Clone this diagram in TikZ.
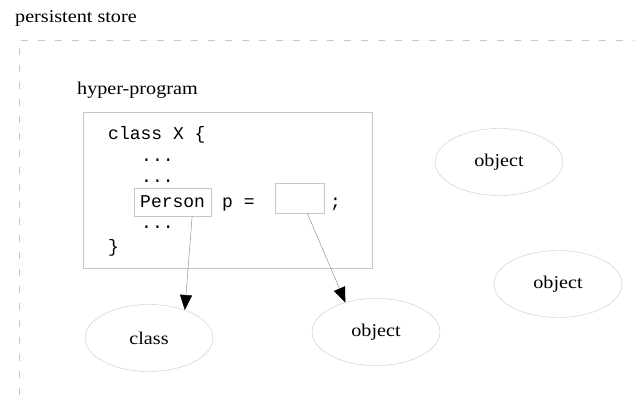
\documentclass[tikz,border=0pt]{standalone}
\usepackage{fontspec}
\setmainfont{Liberation Serif}[FakeStretch=1.12]
\setmonofont{Liberation Mono}
\usetikzlibrary{arrows.meta,shapes.geometric}
\begin{document}
\begin{tikzpicture}[x=1pt,y=-1pt,
  faint/.style={draw=black!22,thin},
  blob/.style={faint,ellipse,minimum width=128pt,minimum height=67pt,inner sep=0pt,font=\fontsize{18}{18}\selectfont},
  hole/.style={faint,rectangle,inner sep=0pt},
  link/.style={draw=black!50,-{Triangle[length=15pt,width=12pt,color=black]}},
  code/.style={anchor=base west,inner sep=0pt,font=\fontsize{18}{18}\ttfamily}]
\useasboundingbox (0,0) rectangle (634,395);
\draw[faint,dash pattern=on 7pt off 10pt] (19,395) -- (19,40) -- (634,40);
\node[anchor=west,inner sep=0pt,font=\fontsize{18}{18}\selectfont] (store) at (15,18) {persistent store};
\node[anchor=west,inner sep=0pt,font=\fontsize{18}{18}\selectfont] (hp) at (77,90) {hyper-program};
\draw[faint] (83,112) rectangle (372,268);
% the program text
\node[code] (l1) at (108,140) {class X \{};
\node[code] (l2) at (141,162) {...};
\node[code] (l3) at (141,183) {...};
\node[code,faint,inner xsep=6pt,minimum height=28pt] (person) at (134,208) {Person};
\node[code] (peq) at (222,208) {p =};
\node[hole,minimum width=49pt,minimum height=30pt] (slot) at (299.5,198) {};
\node[code] (semi) at (330,208) {;};
\node[code] (l5) at (141,229) {...};
\node[code] (l6) at (108,252) {\}};
% the store
\node[blob] (cls) at (149,338) {class};
\node[blob] (obj1) at (376,332) {object};
\node[blob] (obj2) at (499,162) {object};
\node[blob] (obj3) at (558,284) {object};
\draw[link] (person.-36) -- (cls.38);
\draw[link] (slot.-63) -- (obj1.136);
\end{tikzpicture}
\end{document}
